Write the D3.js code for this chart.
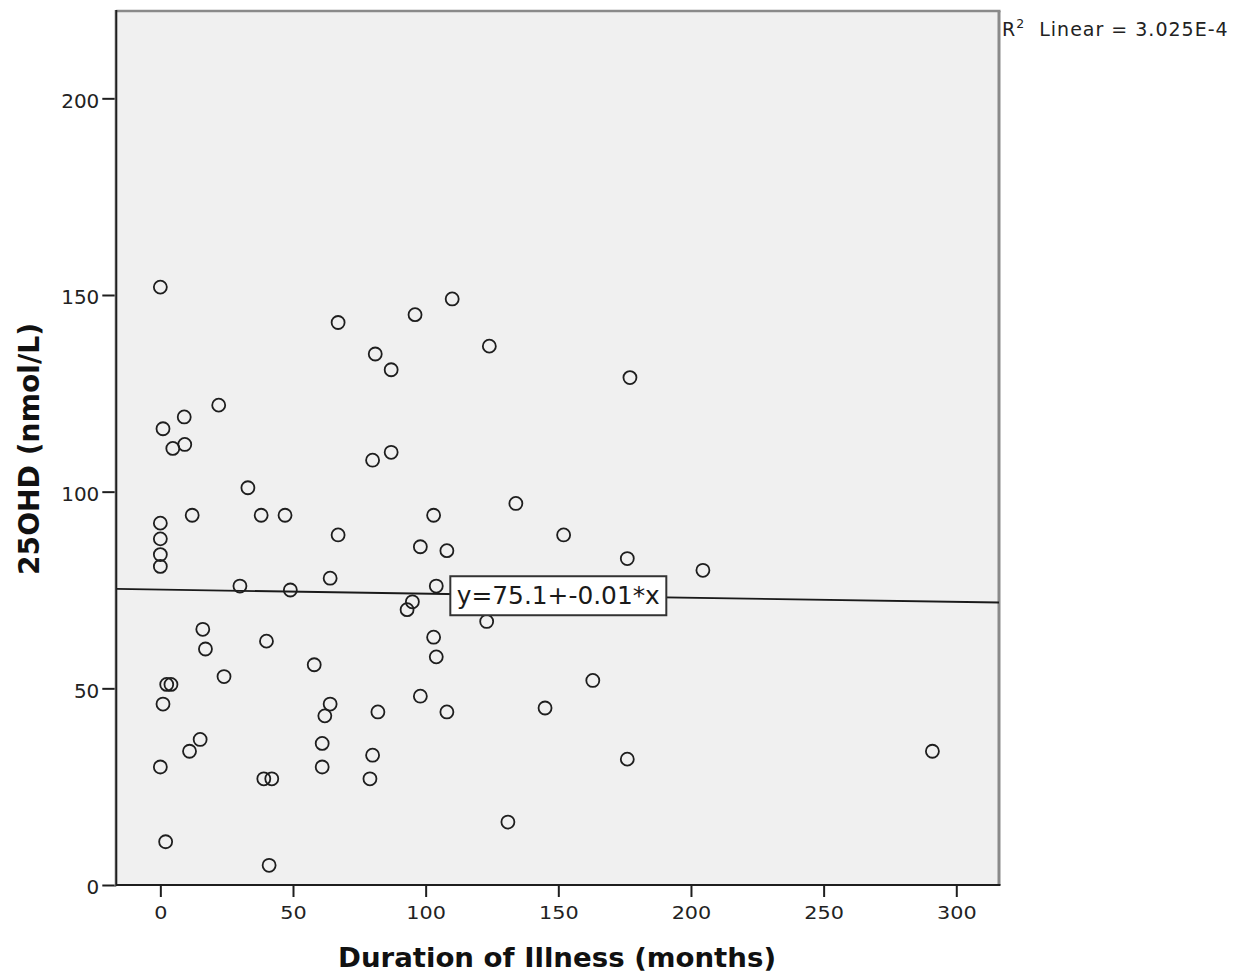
<!DOCTYPE html>
<html>
<head>
<meta charset="utf-8">
<script src="https://cdn.jsdelivr.net/npm/d3@7"></script>
<style>
  html, body { margin: 0; padding: 0; background: #ffffff; }
  svg { display: block; }
</style>
</head>
<body>
<svg id="chart" width="1248" height="976"></svg>
<script>
// ---- data ----
const durationMonths = [0, 1, 4.7, 9, 9.2, 22, 0, 0, 0, 0, 12, 33, 38, 47, 67, 81, 87, 80, 87, 67,
  96, 110, 124, 134, 152, 177, 176, 204.5, 103, 98, 108, 64, 30, 49, 104, 95, 93, 123, 16, 17,
  40, 103, 104, 58, 24, 2.4, 4, 1, 64, 62, 82, 98, 108, 163, 145, 15, 11, 61, 80, 0,
  61, 39, 42, 79, 176, 291, 131, 2, 41];
const ohd25 = [152, 116, 111, 119, 112, 122, 92, 88, 84, 81, 94, 101, 94, 94, 143, 135, 131, 108, 110, 89,
  145, 149, 137, 97, 89, 129, 83, 80, 94, 86, 85, 78, 76, 75, 76, 72, 70, 67, 65, 60,
  62, 63, 58, 56, 53, 51, 51, 46, 46, 43, 44, 48, 44, 52, 45, 37, 34, 36, 33, 30,
  30, 27, 27, 27, 32, 34, 16, 11, 5];
const xTicks = [0, 50, 100, 150, 200, 250, 300];
const yTicks = [0, 50, 100, 150, 200];
const fitIntercept = 75.1;
const fitSlope = -0.0104;
const fitLabel = "y=75.1+-0.01*x";
const r2Label = "3.025E-4";
const xTitle = "Duration of Illness (months)";
const yTitle = "25OHD (nmol/L)";

(function () {
// ---- layout ----
const svg = d3.select("#chart");
const pLeft = 116.3, pRight = 999, pTop = 11, pBottom = 885;
const x = d3.scaleLinear().domain([-16.6, 316.1]).range([pLeft, pRight]);
const y = d3.scaleLinear().domain([0, 222.2]).range([pBottom, pTop]);
const font = "'DejaVu Sans', 'Liberation Sans', sans-serif";

// plot background
svg.append("rect").attr("x", pLeft).attr("y", pTop)
  .attr("width", pRight - pLeft).attr("height", pBottom - pTop)
  .attr("fill", "#f0f0f0");

// frame (top/right grey)
svg.append("line").attr("x1", pLeft).attr("x2", pRight + 1.5).attr("y1", pTop).attr("y2", pTop)
  .attr("stroke", "#8a8a8a").attr("stroke-width", 2.5);
svg.append("line").attr("x1", pRight).attr("x2", pRight).attr("y1", pTop).attr("y2", pBottom)
  .attr("stroke", "#8a8a8a").attr("stroke-width", 3);

// regression line
const plotG = svg.append("g");
const xd = x.domain();
plotG.append("line")
  .attr("x1", x(xd[0])).attr("y1", y(fitIntercept + fitSlope * xd[0]))
  .attr("x2", x(xd[1])).attr("y2", y(fitIntercept + fitSlope * xd[1]))
  .attr("stroke", "#1a1a1a").attr("stroke-width", 1.9);

// points
const pts = durationMonths.map((d, i) => ({ dx: d, dy: ohd25[i] }));
plotG.selectAll("circle.pt").data(pts).join("circle")
  .attr("class", "pt")
  .attr("cx", d => x(d.dx)).attr("cy", d => y(d.dy))
  .attr("r", 6.5)
  .attr("fill", "none").attr("stroke", "#1e1e1e").attr("stroke-width", 1.8);

// fit label box, centred on the line at x = 150
const lx = 150;
const lcx = x(lx), lcy = y(fitIntercept + fitSlope * lx);
const boxW = 216, boxH = 39;
plotG.append("rect")
  .attr("x", lcx - boxW / 2).attr("y", lcy - boxH / 2)
  .attr("width", boxW).attr("height", boxH)
  .attr("fill", "#ffffff").attr("stroke", "#333").attr("stroke-width", 2);
plotG.append("text")
  .attr("x", lcx).attr("y", lcy + 8.5)
  .attr("text-anchor", "middle")
  .attr("font-family", font).attr("font-size", 24)
  .attr("textLength", 203).attr("lengthAdjust", "spacingAndGlyphs")
  .attr("fill", "#1a1a1a")
  .text(fitLabel);

// axes
const yAxis = d3.axisLeft(y).tickValues(yTicks).tickSize(14).tickPadding(3).tickSizeOuter(0);
const gy = svg.append("g").attr("transform", `translate(${pLeft},0)`).call(yAxis);
gy.select(".domain").remove();
gy.selectAll(".tick line").attr("stroke", "#1e1e1e").attr("stroke-width", 2);
gy.selectAll(".tick text").attr("font-family", font).attr("font-size", 19.5)
  .attr("fill", "#222").attr("dy", "0.45em")
  .each(function () {
    const t = d3.select(this);
    const n = t.text().length;
    t.attr("textLength", n * 12.7).attr("lengthAdjust", "spacingAndGlyphs");
  });

const xAxis = d3.axisBottom(x).tickValues(xTicks).tickSize(12).tickPadding(9).tickSizeOuter(0);
const gx = svg.append("g").attr("transform", `translate(0,${pBottom})`).call(xAxis);
gx.select(".domain").remove();
gx.selectAll(".tick line").attr("stroke", "#1e1e1e").attr("stroke-width", 2);
gx.selectAll(".tick text").attr("font-family", font).attr("font-size", 18.5)
  .attr("fill", "#222")
  .each(function () {
    const t = d3.select(this);
    const n = t.text().length;
    t.attr("textLength", n * 13.2).attr("lengthAdjust", "spacingAndGlyphs");
  });

// axis lines (left and bottom, black)
svg.append("line").attr("x1", pLeft - 1).attr("x2", pLeft - 1).attr("y1", pTop - 1).attr("y2", pBottom + 1)
  .attr("stroke", "#aaaaaa").attr("stroke-width", 1.5);
svg.append("line").attr("x1", pLeft).attr("x2", pLeft).attr("y1", pTop - 1).attr("y2", pBottom + 1)
  .attr("stroke", "#1e1e1e").attr("stroke-width", 2);
svg.append("line").attr("x1", pLeft).attr("x2", pRight + 1.5).attr("y1", pBottom).attr("y2", pBottom)
  .attr("stroke", "#1e1e1e").attr("stroke-width", 2);

// axis titles
svg.append("text")
  .attr("x", (338 + 776) / 2).attr("y", 967)
  .attr("text-anchor", "middle")
  .attr("font-family", font).attr("font-weight", "bold").attr("font-size", 26)
  .attr("textLength", 438).attr("lengthAdjust", "spacingAndGlyphs")
  .attr("fill", "#111")
  .text(xTitle);

svg.append("text")
  .attr("transform", `translate(39,449) rotate(-90)`)
  .attr("text-anchor", "middle")
  .attr("font-family", font).attr("font-weight", "bold").attr("font-size", 29)
  .attr("textLength", 252).attr("lengthAdjust", "spacingAndGlyphs")
  .attr("fill", "#111")
  .text(yTitle);

// R² annotation
const r2 = svg.append("text")
  .attr("x", 1002).attr("y", 36)
  .attr("font-family", font).attr("font-size", 19)
  .attr("letter-spacing", 1)
  .attr("fill", "#222");
r2.append("tspan").text("R");
r2.append("tspan").attr("dy", -8).attr("font-size", 12.5).text("2");
r2.append("tspan").attr("dy", 8).text("\u00a0 Linear = " + r2Label);
})();
</script>
</body>
</html>
